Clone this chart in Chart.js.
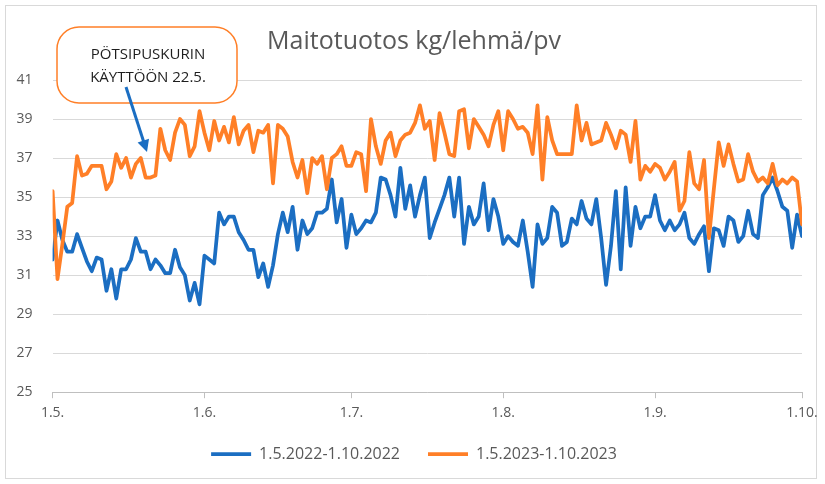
<!DOCTYPE html>
<html>
<head>
<meta charset="utf-8">
<title>Maitotuotos kg/lehmä/pv</title>
<script src="https://cdn.jsdelivr.net/npm/chart.js@4.4.1/dist/chart.umd.min.js"></script>
<style>
  html, body { margin: 0; padding: 0; background: #fff; }
  #wrap { width: 825px; height: 484px; }
</style>
</head>
<body>
<div id="wrap"><canvas id="milkChart" width="825" height="484"></canvas></div>
<script>
// --- data (päivittäiset arvot 1.5.-1.10., luettu kuvasta) ---
const monthTicks = [0, 31, 61, 92, 123, 153];
const monthLabels = ['1.5.', '1.6.', '1.7.', '1.8.', '1.9.', '1.10.'];
const seriesLabels = ['1.5.2022-1.10.2022', '1.5.2023-1.10.2023'];

const milk2022 = [
  31.8, 33.8, 32.8, 32.2, 32.2, 33.1, 32.4, 31.7, 31.2, 31.9,
  31.8, 30.2, 31.3, 29.8, 31.3, 31.3, 31.8, 32.9, 32.2, 32.2,
  31.3, 31.8, 31.5, 31.1, 31.1, 32.3, 31.4, 31.0, 29.7, 30.6,
  29.5, 32.0, 31.8, 31.6, 34.2, 33.6, 34.0, 34.0, 33.2, 32.8,
  32.3, 32.3, 30.9, 31.6, 30.4, 31.5, 33.1, 34.2, 33.2, 34.5,
  32.3, 33.8, 33.1, 33.4, 34.2, 34.2, 34.4, 35.9, 33.7, 34.9,
  32.4, 34.1, 33.1, 33.4, 33.8, 33.7, 34.2, 36.0, 35.9, 35.1,
  34.0, 36.5, 34.4, 35.6, 34.0, 35.1, 36.0, 32.9, 33.7, 34.4,
  35.1, 36.0, 34.0, 36.0, 32.6, 34.5, 33.6, 34.0, 35.7, 33.3,
  34.9, 34.0, 32.6, 33.0, 32.7, 32.5, 33.8, 32.2, 30.4, 33.6,
  32.6, 32.9, 34.5, 34.2, 32.5, 32.7, 33.9, 33.6, 34.8, 33.9,
  33.6, 34.9, 32.9, 30.5, 32.5, 35.3, 31.3, 35.5, 32.5, 34.5,
  33.4, 34.0, 34.0, 35.1, 33.8, 33.3, 33.8, 33.3, 33.6, 34.2,
  32.9, 32.6, 33.1, 33.5, 31.2, 33.4, 33.3, 32.5, 34.0, 33.8,
  32.7, 33.0, 34.3, 33.1, 32.9, 35.1, 35.5, 36.0, 35.3, 34.5,
  34.3, 32.4, 34.1, 33.0
];

const milk2023 = [
  35.3, 30.8, 32.6, 34.5, 34.7, 37.1, 36.1, 36.2, 36.6, 36.6,
  36.6, 35.4, 35.8, 37.2, 36.5, 37.0, 36.0, 36.7, 37.0, 36.0,
  36.0, 36.1, 38.5, 37.4, 36.9, 38.3, 39.0, 38.7, 37.1, 37.6,
  39.4, 38.3, 37.4, 38.9, 37.9, 38.6, 37.8, 39.1, 37.7, 38.4,
  38.7, 37.3, 38.4, 38.3, 38.7, 35.7, 38.7, 38.5, 38.1, 36.8,
  36.0, 36.9, 35.2, 37.0, 36.7, 37.1, 35.4, 37.0, 37.2, 37.6,
  36.6, 36.6, 37.3, 37.2, 35.3, 39.0, 37.6, 36.7, 37.9, 38.3,
  37.1, 37.9, 38.2, 38.3, 38.8, 39.7, 38.5, 38.9, 36.9, 39.3,
  38.3, 37.2, 37.1, 39.4, 39.5, 37.5, 39.0, 38.6, 38.2, 37.6,
  38.7, 39.4, 37.4, 39.4, 39.0, 38.5, 38.6, 38.3, 37.2, 39.7,
  35.9, 39.1, 37.9, 37.2, 37.2, 37.2, 37.2, 39.7, 37.9, 38.8,
  37.7, 37.8, 37.9, 38.8, 38.2, 37.5, 38.4, 38.2, 36.8, 38.9,
  35.9, 36.6, 36.3, 36.7, 36.5, 35.9, 36.3, 36.8, 34.3, 34.8,
  37.3, 35.7, 35.4, 36.9, 32.9, 35.4, 37.8, 36.6, 37.7, 36.7,
  35.8, 35.9, 37.2, 36.3, 35.8, 36.0, 35.7, 36.7, 35.6, 35.9,
  35.7, 36.0, 35.8, 33.6
];

const BLUE = '#1B6EC2';
const ORANGE = '#FF7F27';
const GREY_TEXT = '#595959';
const FONT = "'Open Sans', sans-serif";

// päivä-indeksi x-akselille
function toPoints(values) {
  return values.map((v, i) => ({ x: i, y: v }));
}

// kehys + "PÖTSIPUSKURIN KÄYTTÖÖN" -huomio
const frameAndNote = {
  id: 'frameAndNote',
  beforeDraw(chart) {
    const ctx = chart.ctx;
    ctx.save();
    ctx.fillStyle = '#ffffff';
    ctx.fillRect(0, 0, chart.width, chart.height);
    ctx.strokeStyle = '#d9d9d9';
    ctx.lineWidth = 1;
    ctx.strokeRect(5.5, 5.5, 811, 473);
    ctx.restore();
  },
  afterDraw(chart) {
    const ctx = chart.ctx;
    ctx.save();
    // laatikko
    ctx.beginPath();
    ctx.roundRect(57, 27, 180, 76, 22);
    ctx.fillStyle = '#ffffff';
    ctx.fill();
    ctx.strokeStyle = ORANGE;
    ctx.lineWidth = 1.5;
    ctx.stroke();
    ctx.fillStyle = '#1e1e1e';
    ctx.font = "15px " + FONT;
    ctx.textAlign = 'center';
    ctx.textBaseline = 'middle';
    ctx.fillText('PÖTSIPUSKURIN', 148, 55);
    ctx.fillText('KÄYTTÖÖN 22.5.', 148, 78);
    // nuoli
    const x0 = 126, y0 = 87, x1 = 147, y1 = 152;
    const ang = Math.atan2(y1 - y0, x1 - x0);
    ctx.strokeStyle = BLUE;
    ctx.fillStyle = BLUE;
    ctx.lineWidth = 3;
    ctx.beginPath();
    ctx.moveTo(x0, y0);
    ctx.lineTo(x1 - 9 * Math.cos(ang), y1 - 9 * Math.sin(ang));
    ctx.stroke();
    ctx.beginPath();
    ctx.moveTo(x1, y1);
    ctx.lineTo(x1 - 12 * Math.cos(ang) + 6 * Math.sin(ang), y1 - 12 * Math.sin(ang) - 6 * Math.cos(ang));
    ctx.lineTo(x1 - 12 * Math.cos(ang) - 6 * Math.sin(ang), y1 - 12 * Math.sin(ang) + 6 * Math.cos(ang));
    ctx.closePath();
    ctx.fill();
    ctx.restore();
  }
};

new Chart(document.getElementById('milkChart'), {
  type: 'line',
  data: {
    datasets: [
      {
        label: seriesLabels[0],
        data: toPoints(milk2022),
        borderColor: BLUE,
        backgroundColor: BLUE,
        borderWidth: 3.75,
        borderJoinStyle: 'round',
        borderCapStyle: 'round',
        pointRadius: 0,
        tension: 0,
        order: 2
      },
      {
        label: seriesLabels[1],
        data: toPoints(milk2023),
        borderColor: ORANGE,
        backgroundColor: ORANGE,
        borderWidth: 3.75,
        borderJoinStyle: 'round',
        borderCapStyle: 'round',
        pointRadius: 0,
        tension: 0,
        order: 1
      }
    ]
  },
  options: {
    responsive: false,
    animation: false,
    devicePixelRatio: 1,
    layout: { padding: { left: 3, right: 0, top: 0, bottom: 12 } },
    plugins: {
      title: {
        display: true,
        text: 'Maitotuotos kg/lehmä/pv',
        color: GREY_TEXT,
        font: { family: FONT, size: 25, weight: 'normal' },
        padding: { top: 27, bottom: 23 }
      },
      legend: {
        position: 'bottom',
        labels: {
          usePointStyle: true,
          pointStyle: 'line',
          pointStyleWidth: 40,
          boxWidth: 40,
          color: GREY_TEXT,
          font: { family: FONT, size: 16 },
          padding: 28,
          sort: (a, b) => a.datasetIndex - b.datasetIndex
        }
      },
      tooltip: { enabled: false }
    },
    scales: {
      x: {
        type: 'linear',
        min: 0,
        max: 153,
        afterBuildTicks: (scale) => { scale.ticks = monthTicks.map(v => ({ value: v })); },
        afterFit: (scale) => { scale.height = scale.height - 9; },
        ticks: {
          autoSkip: false,
          maxRotation: 0,
          color: GREY_TEXT,
          font: { family: FONT, size: 14 },
          padding: 6,
          callback: (v) => monthLabels[monthTicks.indexOf(v)]
        },
        grid: { drawOnChartArea: false, drawTicks: true, tickLength: 6, color: '#bfbfbf' },
        border: { color: '#bfbfbf' }
      },
      y: {
        min: 25,
        max: 41,
        afterFit: (scale) => { scale.width = 49.6; },
        ticks: {
          stepSize: 2,
          color: GREY_TEXT,
          font: { family: FONT, size: 14 },
          padding: 20
        },
        grid: { color: '#d9d9d9', drawTicks: false },
        border: { display: false }
      },
      // tyhjä oikea reunus, jotta otsikko ja selite keskittyvät kuten alkuperäisessä
      yRight: {
        position: 'right',
        min: 25,
        max: 41,
        afterFit: (scale) => { scale.width = 23; },
        ticks: { display: false },
        grid: { drawOnChartArea: false, drawTicks: false },
        border: { display: false }
      }
    }
  },
  plugins: [frameAndNote]
});
</script>
</body>
</html>
